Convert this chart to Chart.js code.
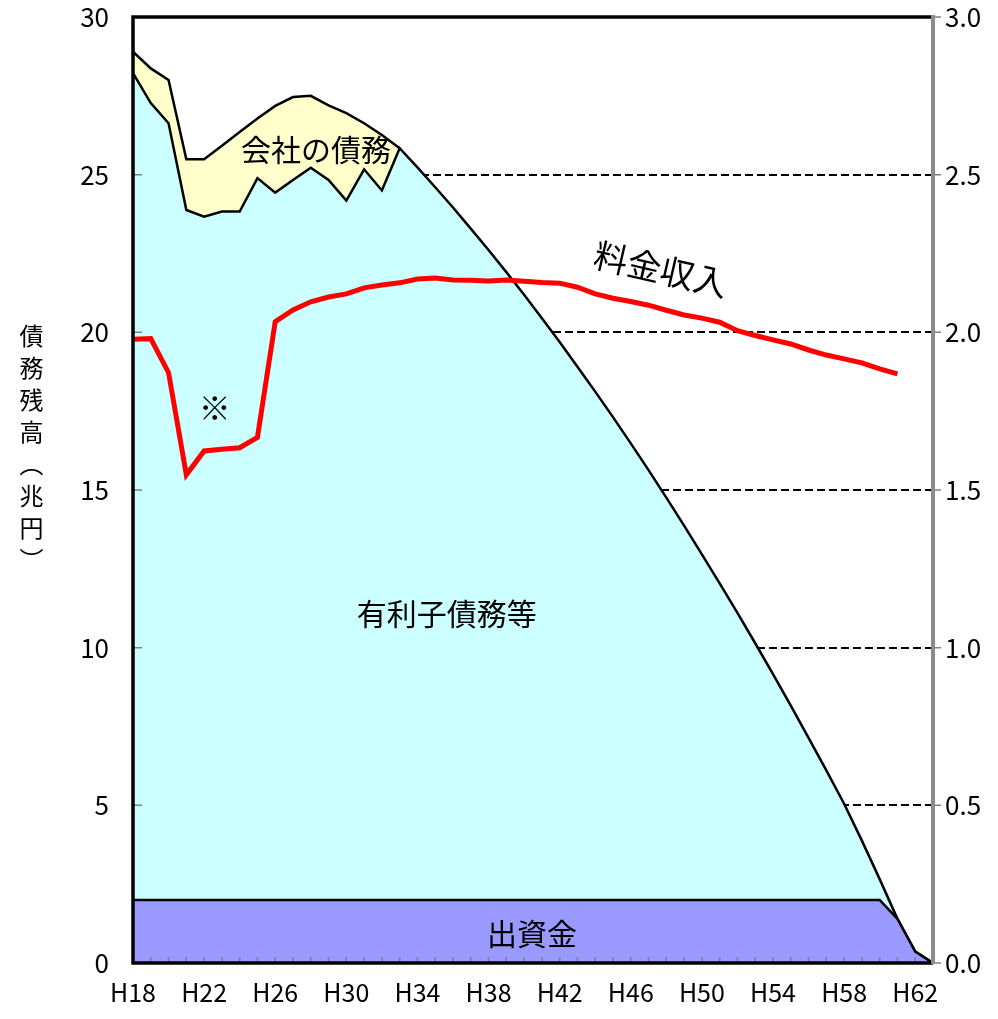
<!DOCTYPE html>
<html>
<head>
<meta charset="utf-8">
<script src="https://cdn.jsdelivr.net/npm/chart.js@4/dist/chart.umd.min.js"></script>
<style>
  body { margin: 0; background: #fff; }
  #wrap { position: relative; width: 998px; height: 1019px; }
  #ytitle {
    position: absolute; left: 14px; top: 324px;
    writing-mode: vertical-rl; font-family: "Noto Sans CJK JP", sans-serif;
    font-size: 24px; letter-spacing: 8px; color: #000;
  }
</style>
</head>
<body>
<div id="wrap">
  <canvas id="c" width="998" height="1019"></canvas>
  <div id="ytitle">債務残高（兆円）</div>
</div>
<script>
// 年度 (H18 .. H63)
const years = [18, 19, 20, 21, 22, 23, 24, 25, 26, 27, 28, 29, 30, 31, 32, 33, 34, 35, 36, 37, 38, 39, 40,
  41, 42, 43, 44, 45, 46, 47, 48, 49, 50, 51, 52, 53, 54, 55, 56, 57, 58, 59, 60, 61, 62, 63];
const xTickYears = [18, 22, 26, 30, 34, 38, 42, 46, 50, 54, 58, 62];

// 会社の債務 (上端, H18..H33)
const companyDebt = [28.9, 28.37, 28.0, 25.49, 25.49, 25.92, 26.35, 26.78, 27.18, 27.46, 27.5, 27.2,
  26.95, 26.63, 26.26, 25.84];
// 有利子債務等 (上端)
const interestDebt = [28.22, 27.27, 26.63, 23.88, 23.67, 23.83, 23.83, 24.89, 24.43, 24.83, 25.22, 24.83,
  24.18, 25.17, 24.5, 25.84, 25.23, 24.6, 23.96, 23.29, 22.61, 21.91, 21.19, 20.45, 19.69, 18.91, 18.12,
  17.31, 16.48, 15.63, 14.76, 13.87, 12.96, 12.04, 11.1, 10.14, 9.16, 8.16, 7.14, 6.11, 5.05, 3.88, 2.66,
  1.4, 0.36, 0];
// 出資金
const capital = [2, 2, 2, 2, 2, 2, 2, 2, 2, 2, 2, 2, 2, 2, 2, 2, 2, 2, 2, 2, 2, 2, 2, 2, 2, 2, 2, 2, 2,
  2, 2, 2, 2, 2, 2, 2, 2, 2, 2, 2, 2, 2, 2, 1.4, 0.36, 0];
// 料金収入 (右軸, H18..H61)
const revenue = [1.978, 1.98, 1.872, 1.548, 1.624, 1.629, 1.634, 1.667, 2.034, 2.071, 2.097, 2.112,
  2.122, 2.141, 2.150, 2.157, 2.169, 2.172, 2.166, 2.165, 2.163, 2.166, 2.162, 2.158, 2.156, 2.143,
  2.122, 2.108, 2.098, 2.086, 2.07, 2.055, 2.045, 2.032, 2.005, 1.99, 1.976, 1.963, 1.944, 1.928,
  1.916, 1.903, 1.884, 1.868];

const font = "'Noto Sans CJK JP', sans-serif";
const pts = arr => arr.map((v, i) => ({ x: years[i], y: v }));

// 注記テキスト (データ座標)
const notes = [
  { text: '会社の債務', x: 28.3, y: 25.8, size: 30, rot: 0, axis: 'y' },
  { text: '料金収入', x: 47.7, y: 2.2, size: 34, rot: 13, axis: 'y2' },
  { text: '※', x: 22.6, y: 17.6, size: 32, rot: 0, axis: 'y' },
  { text: '有利子債務等', x: 35.65, y: 11.07, size: 30, rot: 0, axis: 'y' },
  { text: '出資金', x: 40.45, y: 0.92, size: 30, rot: 0, axis: 'y' }
];

const decor = {
  id: 'decor',
  afterDatasetsDraw(chart) {
    const ctx = chart.ctx, a = chart.chartArea, s = chart.scales;
    ctx.save();
    ctx.fillStyle = '#000';
    ctx.textAlign = 'center';
    ctx.textBaseline = 'middle';
    notes.forEach(n => {
      ctx.save();
      ctx.translate(s.x.getPixelForValue(n.x), s[n.axis].getPixelForValue(n.y));
      ctx.rotate(n.rot * Math.PI / 180);
      ctx.font = n.size + 'px ' + font;
      ctx.fillText(n.text, 0, 0);
      ctx.restore();
    });
    // 目盛り
    ctx.strokeStyle = '#808080';
    ctx.lineWidth = 1.5;
    ctx.beginPath();
    s.y.ticks.forEach(t => {
      const py = s.y.getPixelForValue(t.value);
      ctx.moveTo(a.left, py); ctx.lineTo(a.left + 9, py);
      ctx.moveTo(a.right, py); ctx.lineTo(a.right + 8, py);
    });
    years.forEach(yr => {
      const px = s.x.getPixelForValue(yr);
      ctx.moveTo(px, a.bottom); ctx.lineTo(px, a.bottom - 6);
    });
    ctx.stroke();
    // 枠
    ctx.strokeStyle = '#000';
    ctx.lineWidth = 3.5;
    ctx.beginPath();
    ctx.moveTo(a.right, a.top); ctx.lineTo(a.left, a.top);
    ctx.lineTo(a.left, a.bottom); ctx.lineTo(a.right, a.bottom);
    ctx.stroke();
    ctx.strokeStyle = '#8c8c8c';
    ctx.lineWidth = 4;
    ctx.beginPath();
    ctx.moveTo(a.right, a.top - 2); ctx.lineTo(a.right, a.bottom + 1);
    ctx.stroke();
    ctx.restore();
  }
};

const noPad = sc => { sc.paddingTop = 0; sc.paddingBottom = 0; sc.paddingLeft = 0; sc.paddingRight = 0; };

new Chart(document.getElementById('c'), {
  type: 'line',
  data: {
    datasets: [
      {
        label: '料金収入', data: pts(revenue), yAxisID: 'y2',
        borderColor: '#ff0000', borderWidth: 5, pointRadius: 0, fill: false, order: 0
      },
      {
        label: '出資金', data: pts(capital), yAxisID: 'y',
        borderColor: '#000', borderWidth: 2.5, backgroundColor: '#9999ff', pointRadius: 0,
        fill: 'origin', order: 1
      },
      {
        label: '有利子債務等', data: pts(interestDebt), yAxisID: 'y',
        borderColor: '#000', borderWidth: 2.5, backgroundColor: '#ccffff', pointRadius: 0,
        fill: 'origin', order: 2
      },
      {
        label: '会社の債務', data: pts(companyDebt), yAxisID: 'y',
        borderColor: '#000', borderWidth: 2.5, backgroundColor: '#ffffcc', pointRadius: 0,
        fill: 'origin', order: 3
      }
    ]
  },
  options: {
    responsive: false,
    animation: false,
    devicePixelRatio: 1,
    layout: { padding: { top: 17, left: 0, right: 0, bottom: 0 } },
    plugins: { legend: { display: false }, tooltip: { enabled: false } },
    scales: {
      x: {
        type: 'linear', min: 18, max: 63,
        afterBuildTicks: sc => { sc.ticks = xTickYears.map(v => ({ value: v })); },
        afterFit: sc => { sc.height = 56; noPad(sc); },
        ticks: { callback: v => 'H' + v, color: '#000', font: { family: font, size: 25 }, padding: 14, maxRotation: 0, autoSkip: false },
        grid: { display: false, drawTicks: false },
        border: { display: false }
      },
      y: {
        position: 'left', min: 0, max: 30,
        afterFit: sc => { sc.width = 133; noPad(sc); },
        ticks: { stepSize: 5, color: '#000', font: { family: font, size: 26 }, padding: 24 },
        grid: {
          drawTicks: false,
          color: c => (c.tick.value === 0 || c.tick.value === 30) ? 'rgba(0,0,0,0)' : '#000',
          lineWidth: 2
        },
        border: { display: false, dash: [8, 4] }
      },
      y2: {
        position: 'right', min: 0, max: 3,
        afterFit: sc => { sc.width = 65; noPad(sc); },
        ticks: { stepSize: 0.5, callback: v => v.toFixed(1), color: '#000', font: { family: font, size: 26 }, padding: 12 },
        grid: { drawOnChartArea: false, drawTicks: false },
        border: { display: false }
      }
    }
  },
  plugins: [decor]
});
</script>
</body>
</html>
